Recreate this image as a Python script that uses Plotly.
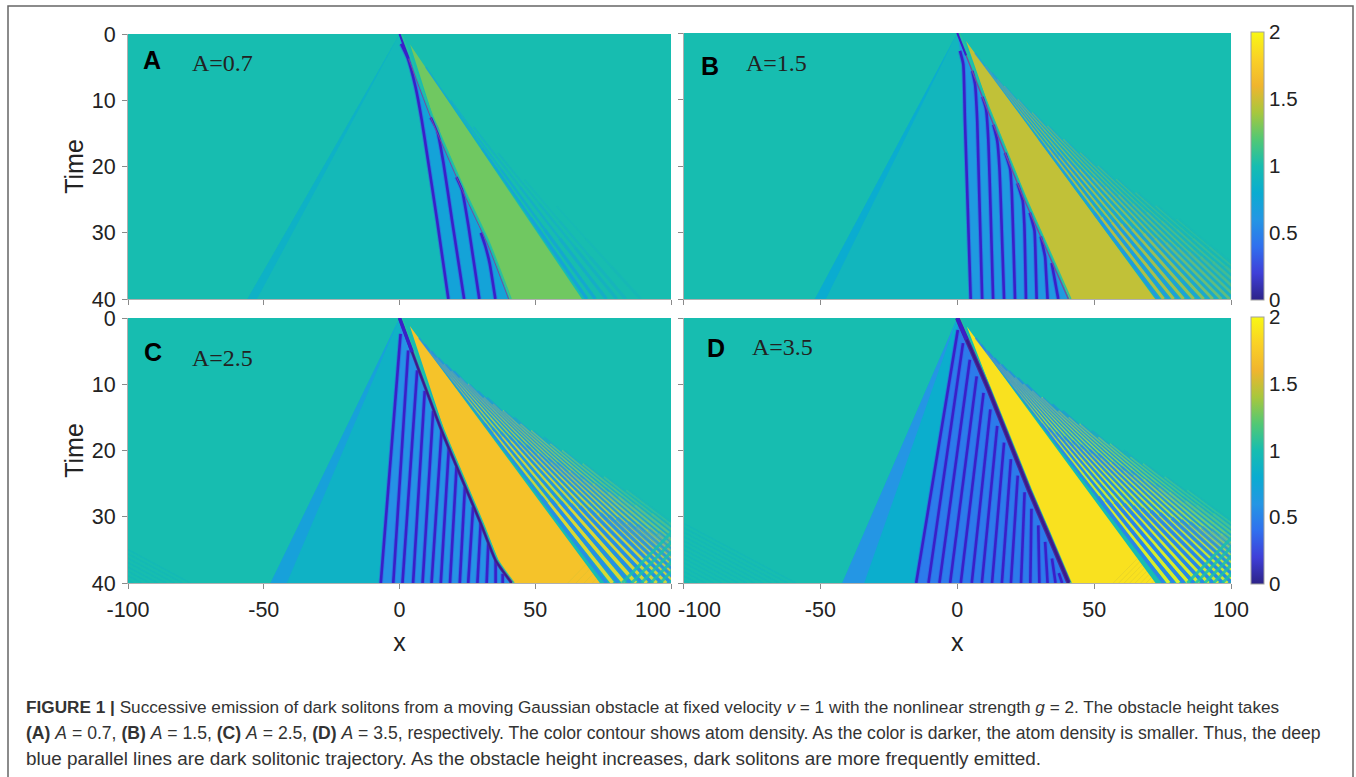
import plotly.graph_objects as go
from plotly.colors import sample_colorscale

W, H = 1356, 777

parula = [[0.0, "#2d2388"], [0.1, "#3f3fd8"], [0.2, "#3070ee"], [0.3, "#2496e4"], [0.4, "#0aacd0"],
          [0.5, "#17bdb0"], [0.6, "#52c874"], [0.7, "#a8c73d"], [0.8, "#f0b52e"], [0.9, "#fad126"], [1.0, "#f8f814"]]

x_ticks = [-100, -50, 0, 50, 100]
t_ticks = [0, 10, 20, 30, 40]
density_ticks = [0, 0.5, 1, 1.5, 2]
panel_letters = ["A", "B", "C", "D"]
panel_heights = ["A=0.7", "A=1.5", "A=2.5", "A=3.5"]
x_labels = [["-100", "-50", "0", "50", "100"], ["-100", "-50", "0", "50", "100"],
            ["-100", "-50", "0", "50", ""], ["", "-50", "0", "50", "100"]]

shock_x = [[0, 11.3, 23.6, 32.2, 40.2], [0, 10.7, 24.1, 32, 40.6], [0, 15.5, 29.9, 35.4, 41.3], [0, 11.5, 26.1, 33, 40.7]]
shock_t = [[0, 12.4, 24, 31.5, 40], [0, 11.2, 24.7, 32, 40], [0, 17, 31, 36.6, 40], [0, 10.9, 25.9, 32.5, 40]]
shock_width = [1.0, 1.3, 3.0, 4.5]

wedge_apex_x = [3.9, 3.2, 3.8, 3.5]
wedge_apex_t = [1.6, 1.2, 1.2, 1.3]
wedge_end_x = [67.2, 72.3, 73.8, 72.4]
wedge_density = [1.27, 1.47, 1.70, 1.88]
plateau_density = [0.95, 0.92, 0.87, 0.82]
zone_density = [0.72, 0.64, 0.58, 0.46]
precursor_x = [-56, -52, -47.5, -42]
precursor_band = [3.5, 4, 6, 8]
precursor_density = [0.86, 0.80, 0.70, 0.60]

A_sol_x = [[0.6, 3.0, 5.9, 8.2, 10.1, 13.8, 18], [11.5, 13.8, 16.2, 19.3, 23.8], [21, 23, 25.4, 29.4], [30, 31.6, 33.2, 35.3]]
A_sol_t = [[1.5, 3.6, 8, 13, 18, 28, 40], [12.6, 14.4, 19.5, 28, 40], [21.6, 23.5, 29, 40], [30, 32, 34.6, 40]]
B_sol_x = [[1, 2.2, 2.8, 4.9], [5.5, 6.5, 7.3, 9.1], [9.2, 10.5, 11.3, 13.1], [13.2, 14.6, 15.4, 17.1],
           [17.5, 19.3, 19.9, 21.1], [22, 23.9, 24.5, 25.1], [26.5, 28.2, 28.5, 29], [30.5, 32.1, 32.4, 33], [34.5, 36.1, 36.9]]
B_sol_t = [[2.7, 4.7, 13, 40], [5.7, 7.7, 13.2, 40], [9.6, 11.4, 15.7, 40], [13.8, 16.2, 20.2, 40],
           [18, 20.4, 23.7, 40], [22.6, 25.2, 28.7, 40], [27, 29.7, 32.2, 40], [30.6, 33.7, 35.7, 40], [34.6, 38.2, 40]]
C_sol_x = [[0.4, -6.9], [3.2, -2.3], [6.5, 1.1], [9.3, 5], [12.4, 8.5], [15.5, 11.8], [18.2, 15.2],
           [21, 18.6], [24.1, 22.2], [27.1, 25.3], [29.9, 28.7], [32.7, 32.1], [35.4, 35.4], [38, 38]]
C_sol_t = [[2.4, 40], [4.9, 40], [7.9, 40], [11, 40], [14, 40], [17, 40], [19.5, 40],
           [22.5, 40], [25.5, 40], [28.5, 40], [31, 40], [34, 40], [36.6, 40], [38.6, 40]]
D_sol_x = [[0.2, -15], [2.1, -10.5], [4.6, -6.5], [7.1, -2.6], [9.6, 1.3], [12.1, 5.3], [14.6, 9], [17.1, 12.7],
           [19.6, 16.3], [22.1, 19.6], [24.6, 23.3], [27.1, 26.7], [29.6, 30], [32.1, 33], [34.6, 35.9], [37.1, 38.3]]
D_sol_t = [[1.8, 40], [3.8, 40], [6.3, 40], [8.8, 40], [11.3, 40], [13.8, 40], [16.3, 40], [18.8, 40],
           [21.3, 40], [23.8, 40], [26.3, 40], [28.8, 40], [31.3, 40], [33.8, 40], [36.3, 40], [38.5, 40]]
soliton_x = [A_sol_x, B_sol_x, C_sol_x, D_sol_x]
soliton_t = [A_sol_t, B_sol_t, C_sol_t, D_sol_t]

ripple_end = [
    [69, 72.1, 76.2, 80, 83.3, 88.8],
    [73.5, 77.2, 80.8, 84.5, 88.2, 91.8, 94.9, 98, 101, 104, 107, 110, 113, 116],
    [76.3, 80.6, 84.9, 89.2, 92.9, 96.5, 100, 103, 106, 109, 112, 115, 118, 121, 124, 127, 130],
    [75.5, 79.1, 82.8, 86.4, 90, 93.5, 97, 100.4, 103.8, 107, 110.2, 113.3, 116.3, 119.3, 122.3, 125.2, 128, 131],
]
ripple_start = [
    [5, 10, 14, 18, 22, 26],
    [3, 5, 6, 8, 10, 12, 14, 16, 18, 20, 22, 24, 26, 28],
    [3, 4, 5, 6, 7, 8, 10, 11, 12, 14, 15, 17, 18, 20, 22, 24, 26],
    [3, 4, 5, 6, 7, 8, 9, 10, 12, 13, 14, 16, 17, 19, 20, 22, 24, 26],
]
ripple_alpha = [
    [0.95, 0.75, 0.55, 0.4, 0.28, 0.15],
    [0.95, 0.9, 0.85, 0.8, 0.7, 0.6, 0.5, 0.45, 0.38, 0.32, 0.26, 0.2, 0.15, 0.1],
    [0.95, 0.95, 0.95, 0.92, 0.9, 0.88, 0.85, 0.82, 0.78, 0.72, 0.66, 0.55, 0.45, 0.36, 0.26, 0.18, 0.12],
    [0.95, 0.95, 0.95, 0.92, 0.9, 0.88, 0.88, 0.85, 0.82, 0.76, 0.7, 0.6, 0.5, 0.4, 0.3, 0.24, 0.18, 0.12],
]
ripple_width = [3.2, 3.0, 3.6, 3.6]
ripple_stripe_density = [0.72, 0.62, 0.55, 0.5]
ripple_light_density = [1.27, 1.5, 1.85, 1.98]

cross_x0 = [[], [], [82, 85.5, 89, 92.5, 96, 99.5, 103, 106.5, 110], [84, 87.2, 90.4, 93.6, 96.8, 100, 103.2, 106.4, 109.6, 112.8]]
cross_alpha = [0.0, 0.0, 0.85, 0.85]
cross_slope = 0.42

wedge_fine_x0 = [[], [], [62, 65, 68, 71], [57, 59, 61, 63, 65, 67, 69, 71]]
left_fine_end = [[], [], [-77, -80, -83, -86, -89, -92, -95, -98],
                 [-59, -62, -65, -68, -71, -74, -77, -80, -83, -86, -89, -92, -95, -98]]
left_slope = 0.22


def color(d, a=1.0):
    c = sample_colorscale(parula, [min(max(d / 2, 0), 1)], colortype="rgb")[0]
    return c.replace("rgb(", "rgba(").replace(")", f",{a})")


def px(v):
    return v / W


def py(v):
    return 1 - v / H


domains = [((128, 671), (34, 299)), ((683.5, 1231), (33, 299)), ((128, 671), (318, 583)), ((683.5, 1231), (318, 583))]
letter_pos = [(152, 60), (710, 66), (153, 352), (716, 348)]
height_pos = [(223, 63), (777, 63), (223, 358), (783, 347)]
cbar_y = [None, (32, 300), None, (317, 584)]

fig = go.Figure()
FONT = "Liberation Sans, Arial, sans-serif"


def poly(i, xs, ts, d, a=1.0):
    fig.add_trace(go.Scatter(x=xs, y=ts, mode="lines", fill="toself", fillcolor=color(d, a), line=dict(width=0),
                             hoverinfo="skip", showlegend=False, xaxis=f"x{i+1}", yaxis=f"y{i+1}"))


def line(i, xs, ts, col, width, smooth=True):
    ln = dict(color=col, width=width)
    if smooth:
        ln.update(shape="spline", smoothing=0.5)
    fig.add_trace(go.Scatter(x=xs, y=ts, mode="lines", line=ln,
                             hoverinfo="skip", showlegend=False, xaxis=f"x{i+1}", yaxis=f"y{i+1}"))


def fan_stripe(i, ax, at, e, s, d, a, w):
    # one ripple stripe fanning from the wedge apex, growing wider and stronger toward t = 40
    stops = [s, s + (40 - s) * 0.35, s + (40 - s) * 0.65, 40]
    wid = [0.5, 0.7, 1.0]
    alp = [0.7, 0.9, 1.0]
    for j in range(3):
        t0, t1 = stops[j], stops[j + 1]
        x0 = ax + (e - ax) * (t0 - at) / (40 - at)
        x1 = ax + (e - ax) * (t1 - at) / (40 - at)
        line(i, [x0, x1], [t0, t1], color(d, a * alp[j]), w * wid[j], smooth=False)


for i in range(4):
    cb = None
    if cbar_y[i]:
        y0, y1 = cbar_y[i]
        cb = dict(x=px(1251), xanchor="left", y=py(y1), yanchor="bottom", lenmode="pixels", len=y1 - y0,
                  thicknessmode="pixels", thickness=13, tickvals=density_ticks, ticktext=["0", "0.5", "1", "1.5", "2"],
                  ticks="", outlinecolor="#a0a0a0", outlinewidth=1, xpad=0, ypad=0,
                  tickfont=dict(family=FONT, size=20.5, color="#222"))
    fig.add_trace(go.Heatmap(z=[[1, 1], [1, 1]], x=[-100, 100], y=[0, 40], zmin=0, zmax=2, colorscale=parula,
                             showscale=bool(cb), colorbar=cb, hoverinfo="skip", xaxis=f"x{i+1}", yaxis=f"y{i+1}"))

    sx, st = shock_x[i], shock_t[i]
    poly(i, [0, precursor_x[i], sx[-1], 0], [0, 40, 40, 0], plateau_density[i])
    poly(i, [0, precursor_x[i], precursor_x[i] + precursor_band[i], 0], [0, 40, 40, 0], precursor_density[i])
    s0x, s0t = soliton_x[i][0], soliton_t[i][0]
    poly(i, [0] + s0x + sx[::-1], [0] + s0t + st[::-1], zone_density[i])
    ax, at = wedge_apex_x[i], wedge_apex_t[i]
    poly(i, [ax, wedge_end_x[i], sx[-1] + 0.5] + [v + 1 for v in sx[-2:0:-1]],
         [at, 40, 40] + st[-2:0:-1], wedge_density[i])

    # light stripes first, blue stripes over them
    ends = ripple_end[i]
    if i > 0:
        for k in range(len(ends) - 1):
            e2 = (ends[k] + ends[k + 1]) / 2
            fan_stripe(i, ax, at, e2, ripple_start[i][k] + 2, ripple_light_density[i], ripple_alpha[i][k] * 0.9, ripple_width[i])
    for k, e in enumerate(ends):
        fan_stripe(i, ax, at, e, ripple_start[i][k], ripple_stripe_density[i], ripple_alpha[i][k], ripple_width[i])

    for x0 in cross_x0[i]:
        span = 30
        line(i, [x0, x0 + span], [40, 40 - cross_slope * span], color(1.0, cross_alpha[i]), 3.0, smooth=False)
    for x0 in wedge_fine_x0[i]:
        d = (wedge_end_x[i] - x0) / 1.76
        line(i, [x0, x0 + d], [40, 40 - cross_slope * d], color(1.5, 0.45), 0.8, smooth=False)
    for e in left_fine_end[i]:
        line(i, [-100, e], [40 - (e + 100) * left_slope, 40], color(0.85, 0.3), 1.2, smooth=False)

    for xs, ts in zip(soliton_x[i], soliton_t[i]):
        line(i, xs, ts, color(0.3, 0.55), 4.4)
        line(i, xs, ts, "#3a1fc8", 2.6)
    line(i, [v + 0.9 for v in sx], st, color(1.05, 0.9), 1.5)
    line(i, sx, st, "#4a2a9a" if i > 1 else "#7a4a9a", shock_width[i])
    if i > 1:
        line(i, sx, st, "#3a1a8a", shock_width[i] * 0.5)
    line(i, [0, sx[1] * 0.3], [0, st[1] * 0.3], "#3a1fc8", 3.5 if i > 1 else 2.0)

    dx, dy = domains[i]
    ax_common = dict(showgrid=False, zeroline=False, ticks="outside", ticklen=5, tickcolor="#8a8a8a", tickwidth=1,
                     showline=True, linecolor="#b0b0b0", linewidth=1, mirror=False,
                     tickfont=dict(family=FONT, size=21.5, color="#222"))
    fig.update_layout(**{
        f"xaxis{i+1}": dict(domain=[px(dx[0]), px(dx[1])], range=[-100, 100], tickvals=x_ticks,
                            ticktext=x_labels[i], showticklabels=i >= 2, anchor=f"y{i+1}", ticklabelstandoff=2,
                            title=dict(text="x" if i >= 2 else "", standoff=12,
                                       font=dict(family=FONT, size=25, color="#222")), **ax_common),
        f"yaxis{i+1}": dict(domain=[py(dy[1]), py(dy[0])], range=[40, 0], tickvals=t_ticks,
                            ticktext=[str(v) for v in t_ticks], showticklabels=i in (0, 2), anchor=f"x{i+1}",
                            ticklabelstandoff=2,
                            title=dict(text="Time" if i in (0, 2) else "", standoff=1,
                                       font=dict(family=FONT, size=25, color="#222")), **ax_common),
    })

annotations = []


def note(x, y, text, font):
    annotations.append(dict(x=px(x), y=py(y), xref="paper", yref="paper", xanchor="center", yanchor="middle",
                            text=text, showarrow=False, font=font))


for i in range(4):
    lx, ly = letter_pos[i]
    note(lx, ly, f"<b>{panel_letters[i]}</b>", dict(family=FONT, size=25, color="#000"))
    hx, hy = height_pos[i]
    note(hx, hy, panel_heights[i], dict(family="Liberation Serif, Times New Roman, serif", size=24, color="#222"))
note(653, 610, "100", dict(family=FONT, size=21.5, color="#222"))
note(699, 610, "-100", dict(family=FONT, size=21.5, color="#222"))

caption = [
    ("<b>FIGURE 1 |</b> Successive emission of dark solitons from a moving Gaussian obstacle at fixed velocity <i>v</i> = 1 "
     "with the nonlinear strength <i>g</i> = 2. The obstacle height takes", 707, 17.2),
    ("<b>(A)</b> <i>A</i> = 0.7, <b>(B)</b> <i>A</i> = 1.5, <b>(C)</b> <i>A</i> = 2.5, <b>(D)</b> <i>A</i> = 3.5, respectively. "
     "The color contour shows atom density. As the color is darker, the atom density is smaller. Thus, the deep", 733, 17.6),
    ("blue parallel lines are dark solitonic trajectory. As the obstacle height increases, dark solitons are more frequently emitted.", 758, 18.9),
]
for text, y, size in caption:
    annotations.append(dict(x=px(24), y=py(y), xref="paper", yref="paper", xanchor="left", yanchor="middle", align="left",
                            text=text, showarrow=False, font=dict(family=FONT, size=size, color="#333")))

fig.update_layout(
    width=W, height=H, autosize=False, margin=dict(l=0, r=0, t=0, b=0, autoexpand=False),
    paper_bgcolor="white", plot_bgcolor="white",
    showlegend=False, annotations=annotations,
    shapes=[dict(type="rect", xref="paper", yref="paper", x0=px(8), x1=px(1353), y0=-0.2, y1=py(6),
                 line=dict(color="#666", width=1.5), fillcolor="rgba(0,0,0,0)", layer="below")],
)

fig.write_html("out.html", config={"displayModeBar": False},
               post_script="document.body.style.margin='0';document.body.style.overflow='hidden';")
